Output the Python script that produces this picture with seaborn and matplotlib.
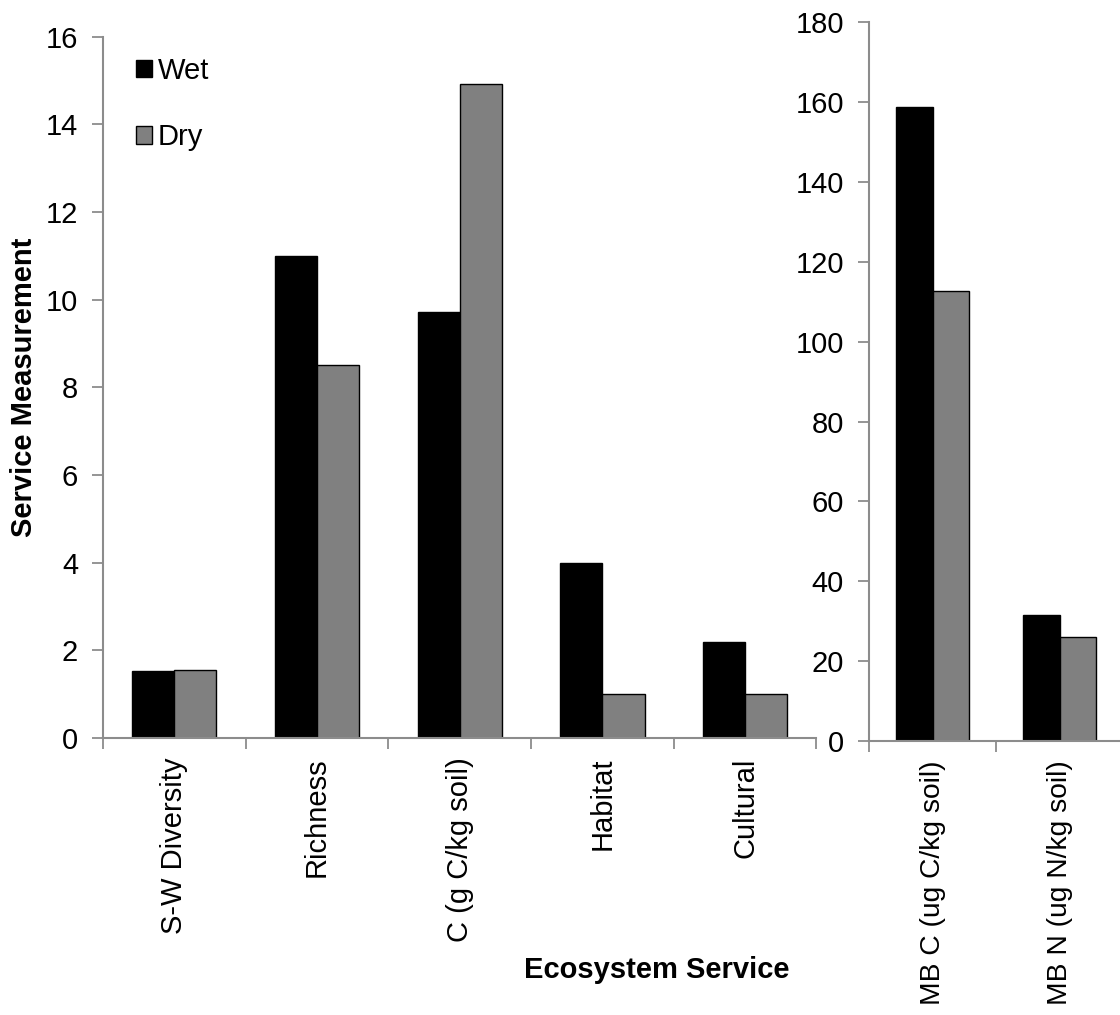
import matplotlib
matplotlib.use("Agg")
import matplotlib.pyplot as plt
import seaborn as sns
import pandas as pd

left_categories = ["S-W Diversity", "Richness", "C (g C/kg soil)", "Habitat", "Cultural"]
left_wet = [1.53, 11.0, 9.72, 4.0, 2.18]
left_dry = [1.56, 8.5, 14.92, 1.0, 1.0]

right_categories = ["MB C (ug C/kg soil)", "MB N (ug N/kg soil)"]
right_wet = [158.8, 31.6]
right_dry = [112.8, 26.0]

series_names = ["Wet", "Dry"]
left_yticks = [0, 2, 4, 6, 8, 10, 12, 14, 16]
right_yticks = [0, 20, 40, 60, 80, 100, 120, 140, 160, 180]

sns.set_style("white")
plt.rcParams['font.family'] = ['Liberation Sans', 'DejaVu Sans']
plt.rcParams['text.color'] = 'black'
plt.rcParams['axes.labelcolor'] = 'black'

def long_df(cats, wet, dry):
    rows = []
    for c, w, d in zip(cats, wet, dry):
        rows.append({"cat": c, "cond": series_names[0], "val": w})
        rows.append({"cat": c, "cond": series_names[1], "val": d})
    return pd.DataFrame(rows)

palette = {"Wet": "#000000", "Dry": "#808080"}
spine_c = "#8c8c8c"

fig = plt.figure(figsize=(11.2, 10.15), dpi=100)
ax1 = fig.add_axes([0.092, 0.273, 0.637, 0.691])
ax2 = fig.add_axes([0.776, 0.270, 0.227, 0.708])

def style(ax, cats, yticks, ylim, xfs):
    n = len(cats)
    ax.set_xlim(-0.5, n - 0.5)
    ax.set_ylim(*ylim)
    ax.set_yticks(yticks)
    ax.set_xticks(range(n))
    ax.set_xticklabels(cats, rotation=90)
    ax.tick_params(axis='x', which='major', length=0, labelsize=xfs, pad=14,
                   labelcolor='black')
    ax.set_xticks([i - 0.5 for i in range(n + 1)], minor=True)
    ax.tick_params(axis='x', which='minor', length=8, width=1.3, color=spine_c, direction='out',
                   bottom=True)
    ax.tick_params(axis='y', length=8, width=1.3, color=spine_c, labelsize=21, pad=10,
                   direction='out', left=True, labelcolor='black')
    for s in ['top', 'right']:
        ax.spines[s].set_visible(False)
    for s in ['left', 'bottom']:
        ax.spines[s].set_color(spine_c)
        ax.spines[s].set_linewidth(1.5)
    ax.set_xlabel("")
    ax.set_ylabel("")

df1 = long_df(left_categories, left_wet, left_dry)
sns.barplot(data=df1, x="cat", y="val", hue="cond", palette=palette, ax=ax1,
            width=0.59, edgecolor="black", linewidth=1.0, saturation=1, errorbar=None)
style(ax1, left_categories, left_yticks, (0, 16), 21)

df2 = long_df(right_categories, right_wet, right_dry)
sns.barplot(data=df2, x="cat", y="val", hue="cond", palette=palette, ax=ax2,
            width=0.575, edgecolor="black", linewidth=1.0, saturation=1, errorbar=None, legend=False)
style(ax2, right_categories, right_yticks, (0, 180), 20.3)

handles, labels = ax1.get_legend_handles_labels()
ax1.legend(handles, labels, loc='upper left', bbox_to_anchor=(0.030, 0.988), frameon=False,
           fontsize=21, handlelength=0.55, handleheight=0.55, handletextpad=0.2,
           labelspacing=1.33, borderaxespad=0)

fig.text(0.586, 0.044, "Ecosystem Service", ha='center', va='center', fontsize=21, fontweight='bold')
fig.text(0.021, 0.618, "Service Measurement", ha='center', va='center', rotation=90,
         fontsize=21, fontweight='bold')

fig.savefig("out.png", dpi=100)
